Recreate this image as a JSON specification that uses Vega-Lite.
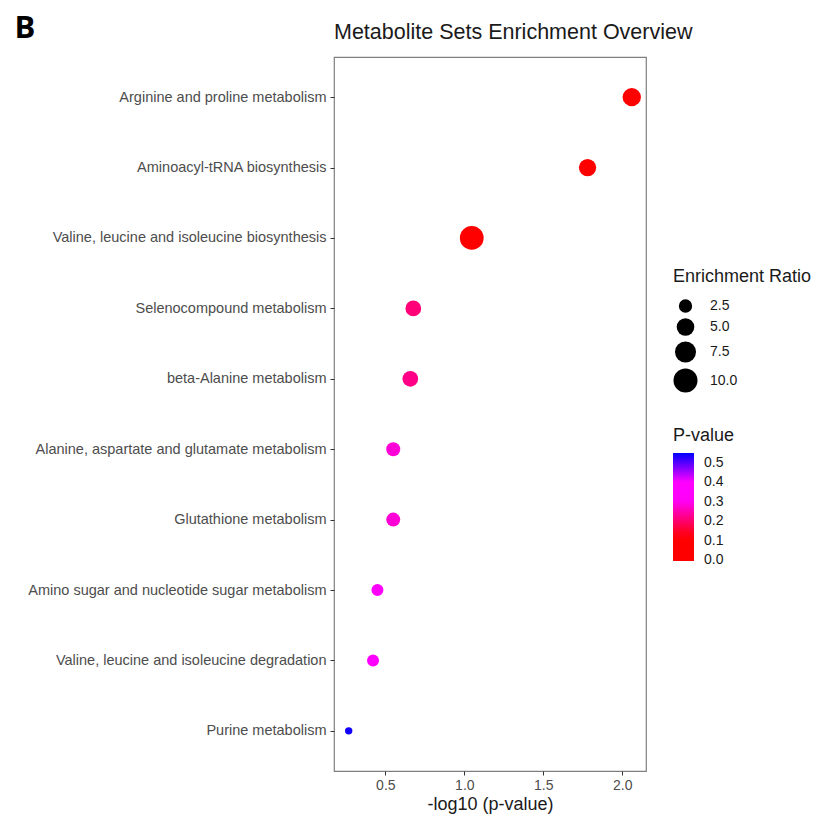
{
  "$schema": "https://vega.github.io/schema/vega-lite/v6.json",
  "autosize": {"type": "none"},
  "width": 312,
  "height": 714,
  "padding": {"left": 334, "top": 57, "right": 171, "bottom": 45},
  "background": "white",
  "title": {
    "text": "Metabolite Sets Enrichment Overview",
    "anchor": "start",
    "frame": "group",
    "font": "Liberation Sans",
    "fontSize": 21.5,
    "fontWeight": "normal",
    "color": "#1a1a1a",
    "offset": 12,
    "dy": 43
  },
  "data": {
    "values": [
      {"name": "Arginine and proline metabolism", "logp": 2.06, "p": 0.0087, "er": 5.46},
      {"name": "Aminoacyl-tRNA biosynthesis", "logp": 1.78, "p": 0.0166, "er": 4.79},
      {"name": "Valine, leucine and isoleucine biosynthesis", "logp": 1.047, "p": 0.0897, "er": 9.8},
      {"name": "Selenocompound metabolism", "logp": 0.677, "p": 0.21, "er": 3.79},
      {"name": "beta-Alanine metabolism", "logp": 0.658, "p": 0.22, "er": 3.79},
      {"name": "Alanine, aspartate and glutamate metabolism", "logp": 0.55, "p": 0.28, "er": 2.85},
      {"name": "Glutathione metabolism", "logp": 0.55, "p": 0.28, "er": 2.85},
      {"name": "Amino sugar and nucleotide sugar metabolism", "logp": 0.45, "p": 0.355, "er": 1.87},
      {"name": "Valine, leucine and isoleucine degradation", "logp": 0.422, "p": 0.378, "er": 1.87},
      {"name": "Purine metabolism", "logp": 0.268, "p": 0.54, "er": 0.2}
    ]
  },
  "mark": {"type": "circle", "opacity": 1},
  "encoding": {
    "y": {
      "field": "name",
      "type": "nominal",
      "sort": null,
      "scale": {"type": "point", "padding": 0.57},
      "axis": {
        "title": "B",
        "titleAngle": 0,
        "titleAlign": "left",
        "titleBaseline": "alphabetic",
        "titleX": -320,
        "titleY": -20,
        "titleFont": "Open Sans",
        "titleFontSize": 31,
        "titleFontWeight": "bold",
        "titleColor": "#000000",
        "labelFont": "Liberation Sans",
        "labelFontSize": 14.5,
        "labelLimit": 400,
        "labelColor": "#4d4d4d",
        "labelPadding": 4,
        "tickSize": 4,
        "tickColor": "#333333",
        "domain": false,
        "grid": false
      }
    },
    "x": {
      "field": "logp",
      "type": "quantitative",
      "scale": {"domain": [0.175, 2.15], "nice": false, "zero": false},
      "axis": {
        "title": "-log10 (p-value)",
        "titleFont": "Liberation Sans",
        "titleFontSize": 18,
        "titleFontWeight": "normal",
        "titleColor": "#1a1a1a",
        "titlePadding": 3,
        "values": [0.5, 1.0, 1.5, 2.0],
        "format": ".1f",
        "labelFont": "Liberation Sans",
        "labelFontSize": 14,
        "labelColor": "#4d4d4d",
        "labelPadding": 3,
        "tickSize": 4,
        "tickColor": "#333333",
        "domain": false,
        "grid": false
      }
    },
    "size": {
      "field": "er",
      "type": "quantitative",
      "title": "Enrichment Ratio",
      "scale": {"domain": [0.2, 10.2], "range": [55, 587], "zero": false},
      "legend": {
        "orient": "none",
        "legendX": 339,
        "legendY": 211,
        "values": [2.5, 5.0, 7.5, 10.0],
        "format": ".1f",
        "symbolFillColor": "#000000",
        "symbolStrokeColor": "#000000",
        "symbolStrokeWidth": 0,
        "titleFont": "Liberation Sans",
        "titleFontSize": 18,
        "titleFontWeight": "normal",
        "titleColor": "#1a1a1a",
        "titlePadding": 13,
        "labelFont": "Liberation Sans",
        "labelFontSize": 14,
        "labelColor": "#1a1a1a",
        "labelOffset": 12,
        "rowPadding": 5
      }
    },
    "color": {
      "field": "p",
      "type": "quantitative",
      "title": "P-value",
      "scale": {
        "domain": [-0.004, 0.12, 0.31, 0.4, 0.55],
        "range": ["#ff0000", "#ff0000", "#ff00ff", "#ff00ff", "#0000ff"],
        "interpolate": "rgb"
      },
      "legend": {
        "orient": "none",
        "legendX": 339,
        "legendY": 370,
        "type": "gradient",
        "gradientLength": 108,
        "gradientThickness": 21,
        "gradientStrokeWidth": 0,
        "values": [0.0, 0.1, 0.2, 0.3, 0.4, 0.5],
        "labelOverlap": false,
        "format": ".1f",
        "titleFont": "Liberation Sans",
        "titleFontSize": 18,
        "titleFontWeight": "normal",
        "titleColor": "#1a1a1a",
        "titlePadding": 8,
        "labelFont": "Liberation Sans",
        "labelFontSize": 14,
        "labelColor": "#1a1a1a",
        "labelOffset": 10
      }
    }
  },
  "config": {
    "view": {"stroke": "#7f7f7f", "strokeWidth": 1.2},
    "axis": {"ticks": true}
  }
}
